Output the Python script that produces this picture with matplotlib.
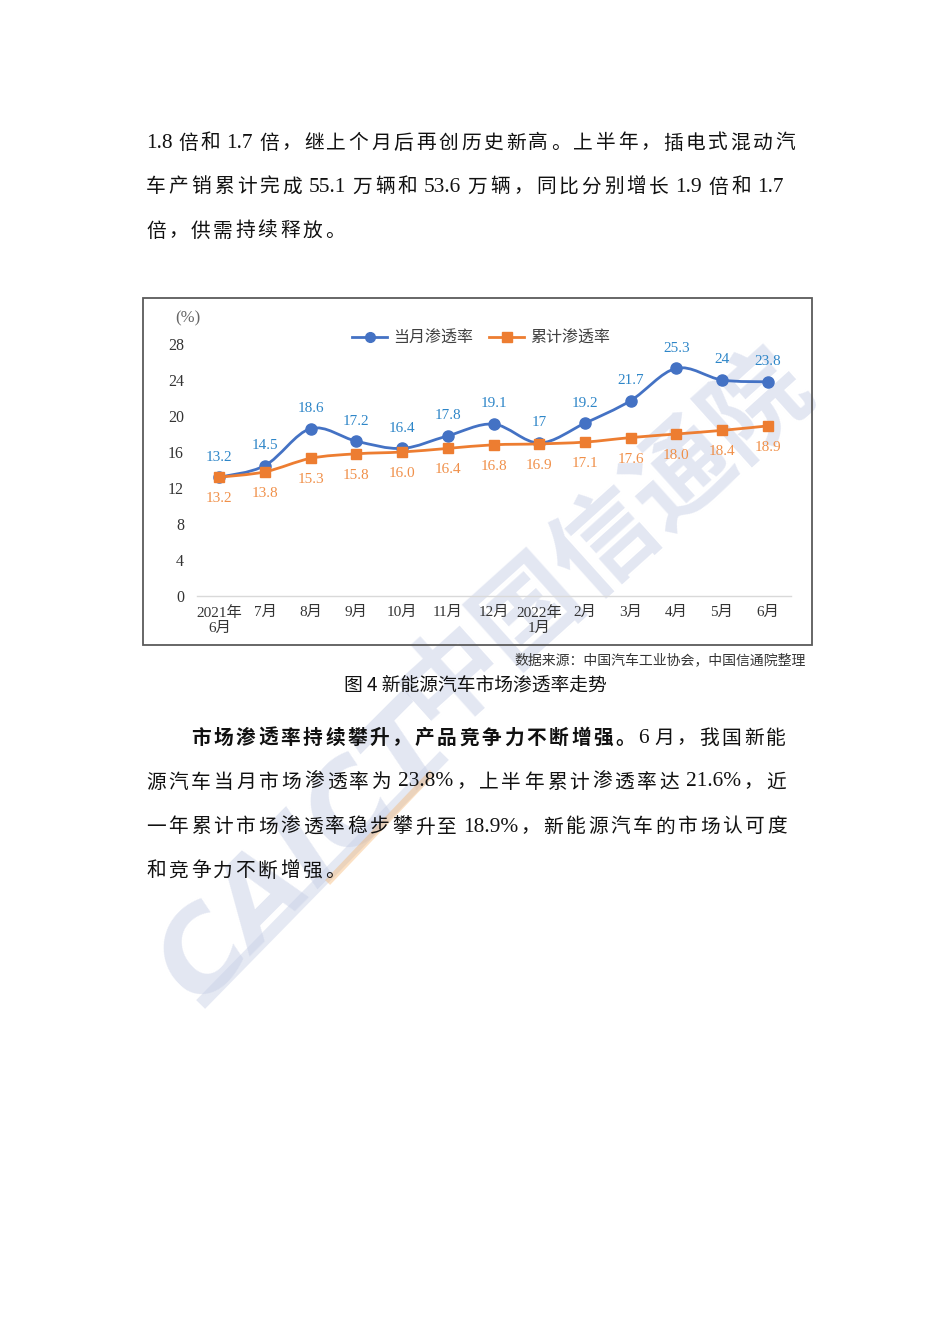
import re
import matplotlib
matplotlib.use("Agg")
import matplotlib.pyplot as plt
from matplotlib.path import Path
from matplotlib.patches import PathPatch, Rectangle
from matplotlib.lines import Line2D

# ---------------- data ----------------
months = ["2021年\n6月", "7月", "8月", "9月", "10月", "11月", "12月",
          "2022年\n1月", "2月", "3月", "4月", "5月", "6月"]
monthly_rate = [13.2, 14.5, 18.6, 17.2, 16.4, 17.8, 19.1, 17.0, 19.2, 21.7, 25.3, 24.0, 23.8]
monthly_labels = ["13.2", "14.5", "18.6", "17.2", "16.4", "17.8", "19.1", "17",
                  "19.2", "21.7", "25.3", "24", "23.8"]
cumulative_rate = [13.2, 13.8, 15.3, 15.8, 16.0, 16.4, 16.8, 16.9, 17.1, 17.6, 18.0, 18.4, 18.9]
cumulative_labels = ["13.2", "13.8", "15.3", "15.8", "16.0", "16.4", "16.8", "16.9",
                     "17.1", "17.6", "18.0", "18.4", "18.9"]
y_ticks = [0, 4, 8, 12, 16, 20, 24, 28]
series_names = ["当月渗透率", "累计渗透率"]

para1 = ["1.8 倍和 1.7 倍，继上个月后再创历史新高。上半年，插电式混动汽",
         "车产销累计完成 55.1 万辆和 53.6 万辆，同比分别增长 1.9 倍和 1.7",
         "倍，供需持续释放。"]
para2_bold = "市场渗透率持续攀升，产品竞争力不断增强。"
para2 = ["6 月，我国新能",
         "源汽车当月市场渗透率为 23.8%，上半年累计渗透率达 21.6%，近",
         "一年累计市场渗透率稳步攀升至 18.9%，新能源汽车的市场认可度",
         "和竞争力不断增强。"]
caption = "图 4 新能源汽车市场渗透率走势"
source = "数据来源：中国汽车工业协会，中国信通院整理"

# ---------------- styles ----------------
W, H = 950, 1344
SERIF = ["Liberation Serif", "Noto Sans CJK SC"]
CJK = ["Noto Sans CJK SC", "DejaVu Sans"]
BLUE = "#4472C4"
BLUE_LBL = "#2E86C8"
ORANGE = "#ED7D31"
ORANGE_LBL = "#F0904A"

fig = plt.figure(figsize=(W / 100, H / 100), dpi=100)
fig.patch.set_facecolor("white")


def fx(x):
    return x / W


def fy(y):
    return 1 - y / H


# ---------------- watermark ----------------
wm_color = (0.78, 0.81, 0.90)
fig.text(fx(605), fy(540), "中国信通院", fontsize=74, fontweight="bold", family=CJK,
         color=wm_color, alpha=0.5, rotation=42, ha="center", va="center",
         rotation_mode="anchor", zorder=-5)
fig.text(fx(305), fy(855), "CAICT", fontsize=80, fontweight="bold", family=["DejaVu Sans"],
         color=wm_color, alpha=0.5, rotation=45, ha="center", va="center",
         rotation_mode="anchor", zorder=-5, style="italic")
fig.add_artist(Line2D([fx(205), fx(440)], [fy(1000), fy(760)], transform=fig.transFigure,
                      color=wm_color, alpha=0.45, lw=9, zorder=-5))
fig.add_artist(Line2D([fx(330), fx(430)], [fy(880), fy(775)], transform=fig.transFigure,
                      color="#F6B36B", alpha=0.4, lw=5, zorder=-4))

# ---------------- chart frame ----------------
fig.add_artist(Rectangle((fx(143), fy(645)), fx(812) - fx(143), fy(298) - fy(645),
                         transform=fig.transFigure, fill=False, edgecolor="#5a5a5a",
                         lw=1.3, zorder=1))

# ---------------- axes ----------------
ax_left, ax_right = 196.5, 790.5
ax_bottom, ax_top = 596, 344
ax = fig.add_axes([fx(ax_left), fy(ax_bottom), fx(ax_right) - fx(ax_left),
                   fy(ax_top) - fy(ax_bottom)])
ax.set_facecolor("none")
ax.set_xlim(-0.5, len(months) - 0.5)
ax.set_ylim(0, 28)
for s in ["left", "right", "top"]:
    ax.spines[s].set_visible(False)
ax.spines["bottom"].set_color("#d9d9d9")
ax.spines["bottom"].set_linewidth(1.0)
ax.set_yticks(y_ticks)
ax.set_yticklabels([str(v) for v in y_ticks], family=SERIF, fontsize=11.5, color="#333333")
ax.set_xticks(range(len(months)))
ax.set_xticklabels(months, family=SERIF, fontsize=11, color="#333333", linespacing=1.2)
ax.tick_params(axis="both", length=0)
ax.tick_params(axis="y", pad=9)
ax.tick_params(axis="x", pad=7)


def smooth_path(xs, ys):
    pts = list(zip(xs, ys))
    n = len(pts)
    verts = [pts[0]]
    codes = [Path.MOVETO]
    for i in range(n - 1):
        p0 = pts[i - 1] if i > 0 else pts[i]
        p1 = pts[i]
        p2 = pts[i + 1]
        p3 = pts[i + 2] if i + 2 < n else pts[i + 1]
        c1 = (p1[0] + (p2[0] - p0[0]) / 6, p1[1] + (p2[1] - p0[1]) / 6)
        c2 = (p2[0] - (p3[0] - p1[0]) / 6, p2[1] - (p3[1] - p1[1]) / 6)
        verts += [c1, c2, p2]
        codes += [Path.CURVE4] * 3
    return Path(verts, codes)


xs = list(range(len(months)))
ax.add_patch(PathPatch(smooth_path(xs, monthly_rate), fill=False, edgecolor=BLUE,
                       lw=2.0, zorder=3, clip_on=False))
ax.plot(xs, monthly_rate, linestyle="none", marker="o", markersize=8,
        color=BLUE, zorder=4, clip_on=False)
ax.add_patch(PathPatch(smooth_path(xs, cumulative_rate), fill=False, edgecolor=ORANGE,
                       lw=2.0, zorder=5, clip_on=False))
ax.plot(xs, cumulative_rate, linestyle="none", marker="s", markersize=7.5,
        color=ORANGE, zorder=6, clip_on=False)

for x, v, lab in zip(xs, monthly_rate, monthly_labels):
    ax.annotate(lab, (x, v), xytext=(0, 14.5), textcoords="offset points",
                ha="center", va="center", family=SERIF, fontsize=11,
                color=BLUE_LBL, zorder=7)
for x, v, lab in zip(xs, cumulative_rate, cumulative_labels):
    ax.annotate(lab, (x, v), xytext=(0, -15.5), textcoords="offset points",
                ha="center", va="center", family=SERIF, fontsize=11,
                color=ORANGE_LBL, zorder=7)

# legend
handles = [Line2D([], [], color=BLUE, lw=2.0, marker="o", markersize=7),
           Line2D([], [], color=ORANGE, lw=2.0, marker="s", markersize=6.5)]
fig.legend(handles, series_names, loc="center", bbox_to_anchor=(fx(481), fy(338)),
           ncol=2, frameon=False, prop={"family": CJK, "size": 11.5},
           handlelength=2.2, handletextpad=0.35, columnspacing=1.0, labelcolor="#404040")

fig.text(fx(188), fy(318), "(%)", family=SERIF, fontsize=12, color="#666666",
         ha="center", va="center")

# ---------------- caption / source ----------------
fig.text(fx(806), fy(660), source, family=CJK, fontsize=10, color="#333333",
         ha="right", va="center")
fig.text(fx(475), fy(685), caption, family=CJK, fontsize=13.5, color="#111111",
         ha="center", va="center")

# ---------------- body text ----------------
renderer = fig.canvas.get_renderer()
TOK = re.compile(r"[0-9A-Za-z.%]+| |\S")
SPACE_W = 0.5


def layout_line(segments, x0, x1, y, justify, size=14.2):
    """segments: list of (text, weight)."""
    items = []
    for txt, weight in segments:
        for tok in TOK.findall(txt):
            if tok == " ":
                items.append((None, SPACE_W))
                continue
            if re.match(r"[0-9A-Za-z.%]", tok):
                fam, sz = SERIF, size + 1.2
            else:
                fam, sz = CJK, size
            t = fig.text(fx(x0), fy(y), tok, family=fam, fontsize=sz,
                         fontweight=weight, color="#111111", ha="left", va="center")
            w = t.get_window_extent(renderer).width
            items.append((t, w))
    total = sum(w for _, w in items)
    n = len(items)
    if justify and n > 1:
        gap = (x1 - x0 - total) / (n - 1)
    else:
        gap = 2.6
    x = x0
    for t, w in items:
        if t is not None:
            t.set_x(fx(x))
        x += w + gap


line_h = [143, 187, 231]
rights1 = [795, 784, None]
for ln, yy, r in zip(para1, line_h, rights1):
    layout_line([(ln, "normal")], 146, r if r else 795, yy, justify=r is not None)

line_h2 = [738, 782, 827, 871]
rights2 = [786, 786, 787, None]
layout_line([(para2_bold, "bold"), (para2[0], "normal")], 191, rights2[0], line_h2[0], True)
for ln, yy, r in zip(para2[1:], line_h2[1:], rights2[1:]):
    layout_line([(ln, "normal")], 146, r if r else 786, yy, justify=r is not None)

fig.savefig("out.png", dpi=100, facecolor="white")
